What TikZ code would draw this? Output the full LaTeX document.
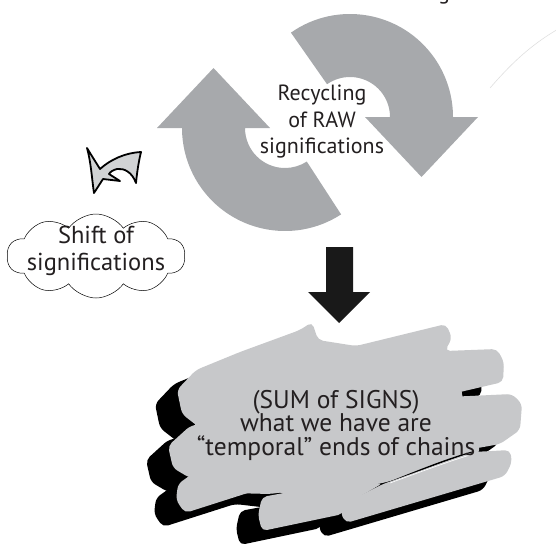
\documentclass[tikz,border=0pt]{standalone}
\usepackage{fontspec}
\setmainfont{PT Sans}
\usetikzlibrary{shapes.symbols}
\definecolor{recycgrey}{RGB}{167,169,172}
\definecolor{brushgrey}{RGB}{199,200,202}
\definecolor{shiftgrey}{RGB}{209,211,212}
\definecolor{inkblack}{RGB}{35,31,32}
\tikzset{
  recyc/.style={fill=recycgrey},
  brush/.style={fill=brushgrey, rounded corners=5pt},
  shade/.style={fill=black, rounded corners=5pt},
  label/.style={align=center, inner sep=0pt, text=inkblack},
}
\def\brushA{(196,370) -- (240,352) -- (300,330) -- (312,322) -- (318,340) -- (356,346) -- (446,324) -- (452,338) -- (445,351) -- (497,349) -- (504,362) -- (503,382) -- (460,392) -- (400,410) -- (300,425) -- (200,428) -- (182,414) -- (177,390) -- cycle}
\def\brushB{(190,426) -- (260,412) -- (420,398) -- (470,396) -- (512,394) -- (522,404) -- (520,430) -- (500,444) -- (400,462) -- (260,478) -- (190,478) -- (173,468) -- (168,446) -- cycle}
\def\brushC{(192,474) -- (260,462) -- (400,448) -- (480,444) -- (478,456) -- (383,483) -- (300,495) -- (257,490) -- (185,513) -- (176,500) -- (178,484) -- cycle}
\def\brushD{(262,497) -- (300,490) -- (383,483) -- (345,505) -- (343,514) -- (262,531) -- (258,515) -- cycle}
\def\brushE{(345,503) -- (383,484) -- (473,452) -- (510,450) -- (512,462) -- (505,476) -- (346,523) -- (340,512) -- cycle}
\begin{document}
\begin{tikzpicture}[x=1pt,y=-1pt]
\useasboundingbox (0,0) rectangle (556,546);
% cut-off text and faint line at the top
\node[font=\fontsize{22}{26}\selectfont, anchor=base, inner sep=0pt, text=inkblack] (cut) at (444,-1) {g};
\draw[gray!25, line width=0.6pt] (490,88) .. controls (510,65) and (530,45) .. (560,28);

% recycling arrows
\begin{scope}[shift={(285,128)}]
  \fill[recyc] (57:103) arc[start angle=57, end angle=180, radius=103]
    -- (-128,0) -- (-71.5,-60) -- (-15,0) -- (-40,0)
    arc[start angle=180, end angle=57, radius=40] -- cycle;
\end{scope}
\begin{scope}[shift={(350,117)}]
  \fill[recyc] (235:103) arc[start angle=235, end angle=360, radius=103]
    -- (128,0) -- (71.5,60) -- (15,0) -- (40,0)
    arc[start angle=360, end angle=235, radius=40] -- cycle;
\end{scope}
\node[label, font=\fontsize{22}{26.5}\selectfont] (recycling) at (322,122)
  {Recycling\\of RAW\\significations};

% shift arrow and cloud
\draw[line width=1.8pt, fill=shiftgrey, line join=round]
  (87,148) .. controls (93,158) and (97,164) .. (100,169)
  .. controls (110,160) and (124,153) .. (141,152)
  .. controls (139,160) and (137,172) .. (136,183)
  .. controls (132,172) and (124,168) .. (117,169)
  .. controls (113,170) and (110,172) .. (109,174)
  -- (120,181) -- (103,179) -- (94,193)
  .. controls (92,180) and (91,162) .. cycle;
\node[cloud, draw, line width=0.5pt, cloud puffs=10, cloud puff arc=110, aspect=2.1,
  minimum width=178pt, minimum height=84pt, inner sep=0pt] (shift) at (96,256) {};
\node[label, font=\fontsize{24.5}{27}\selectfont] (shifttext) at (96,251)
  {Shift of\\significations};

% black arrow
\fill[black!90] (326,247) -- (353,247) -- (353,292) -- (370,292) -- (339,323)
  -- (308,292) -- (326,292) -- cycle;

% brush strokes
\foreach \b in {\brushA,\brushB,\brushC,\brushD,\brushE}
  \fill[shade, shift={(-22,14)}] \b;
\foreach \b in {\brushA,\brushB,\brushC,\brushD}
  \fill[brush] \b;
\fill[brush] (195,405) -- (460,382) -- (470,440) -- (383,478) -- (270,494) -- (195,492) -- cycle;
\draw[line width=1.5pt] (383,485) .. controls (420,470) and (450,458) .. (473,452);
\fill[brush] \brushE;
\draw[white, line width=0.6pt] (390,483) .. controls (420,472) and (450,461) .. (470,455);
\node[label, font=\fontsize{25.5}{23.5}\selectfont] (sum) at (336,425)
  {(SUM of SIGNS)\\what we have are\\“temporal” ends of chains};
\end{tikzpicture}
\end{document}
